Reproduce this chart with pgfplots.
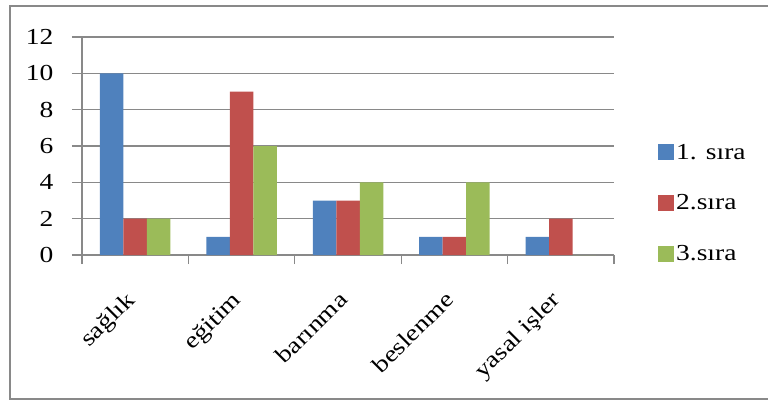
\documentclass[border=0pt]{standalone}
\usepackage{fontspec}
\setmainfont[FakeStretch=1.2]{Liberation Serif}
\usepackage{pgfplots}
\pgfplotsset{compat=1.18}
\definecolor{cblue}{HTML}{4F81BD}
\definecolor{cred}{HTML}{C0504D}
\definecolor{cgreen}{HTML}{9BBB59}
\definecolor{cgrid}{HTML}{898989}
\begin{document}
\begin{tikzpicture}[x=1bp,y=1bp]
\useasboundingbox (0,0) rectangle (768,-401);
\draw[line width=2bp, color=cgrid] (10,-6) rectangle (790,-399);
\begin{axis}[
  at={(82bp,-255bp)}, anchor=south west,
  scale only axis, width=532bp, height=218bp,
  ybar=0pt, bar width=23.5bp,
  xmin=-0.5, xmax=4.5, ymin=0, ymax=12,
  axis x line*=bottom, axis y line*=left,
  axis line style={cgrid, line width=1.3bp, -},
  xtick={0,1,2,3,4},
  xticklabels={sağlık, eğitim, barınma, beslenme, yasal işler},
  major x tick style={draw=none},
  minor xtick={-0.5,0.5,1.5,2.5,3.5,4.5},
  minor tick length=9bp,
  minor x tick style={cgrid, line width=1.3bp},
  ytick={0,2,...,12},
  major tick length=10bp,
  major y tick style={cgrid, line width=1.3bp},
  tick align=outside,
  ymajorgrids, grid style={cgrid, line width=1.3bp},
  /pgf/number format/assume math mode=true,
  tick label style={font=\fontsize{23}{26}\selectfont, black},
  xticklabel style={rotate=45, anchor=north east, inner sep=0pt, yshift=-10bp, xshift=-25bp},
  yticklabel style={xshift=-15bp},
  legend style={at={(1.077,0.239)}, anchor=west, draw=none, fill=none,
    font=\fontsize{23}{26}\selectfont, row sep=30bp},
  legend cell align=left,
  legend image code/.code={\fill[#1] (0bp,-8bp) rectangle (16bp,8bp);},
]
\addplot[fill=cblue, draw=none] coordinates {(0,10) (1,1) (2,3) (3,1) (4,1)};
\addplot[fill=cred, draw=none] coordinates {(0,2) (1,9) (2,3) (3,1) (4,2)};
\addplot[fill=cgreen, draw=none] coordinates {(0,2) (1,6) (2,4) (3,4) (4,0)};
\legend{1. sıra, 2.sıra, 3.sıra}
\end{axis}
\end{tikzpicture}
\end{document}
